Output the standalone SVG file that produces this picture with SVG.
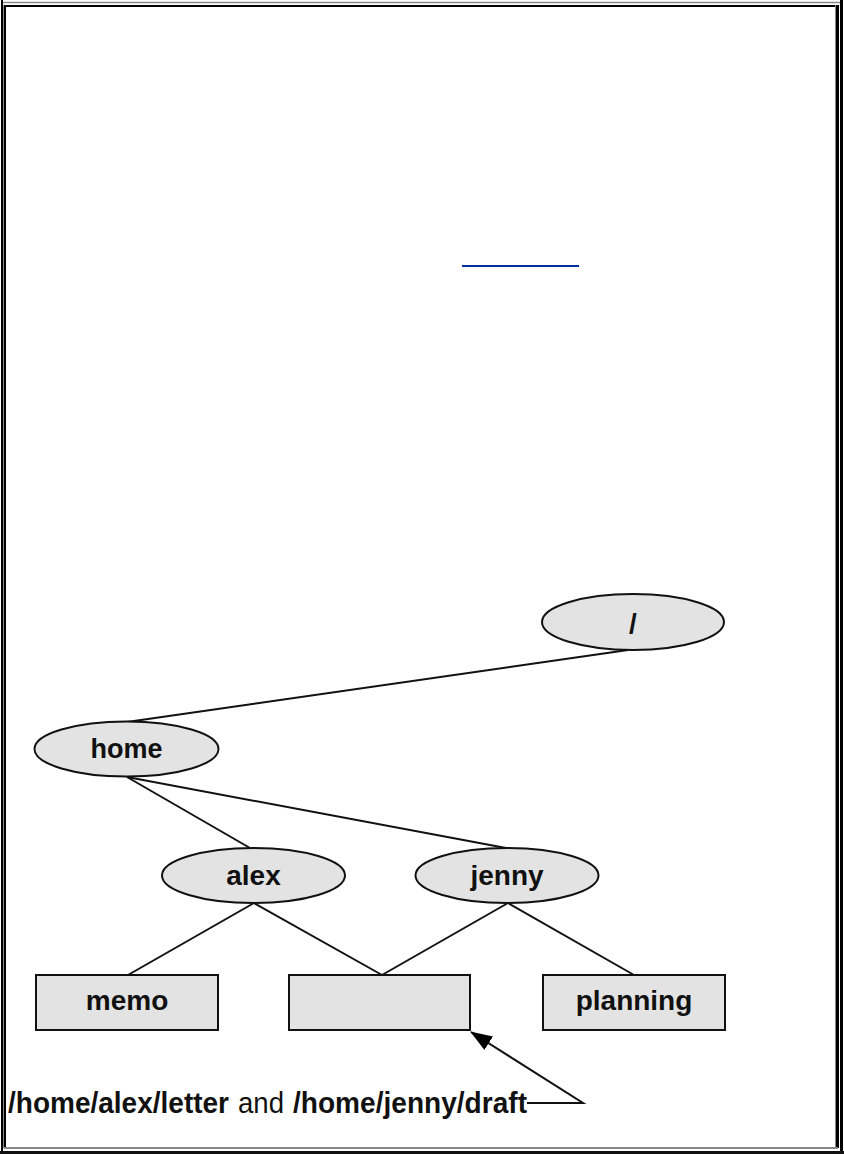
<svg xmlns="http://www.w3.org/2000/svg" width="844" height="1154" viewBox="0 0 844 1154">
<style>
.n{fill:#e3e3e3;stroke:#111;stroke-width:2}
.t{font-family:"Liberation Sans",Arial,sans-serif;font-weight:bold;font-size:28px;fill:#111;text-anchor:middle}
.c{stroke:#111;stroke-width:2;fill:none}
.cap{font-family:"Liberation Sans",Arial,sans-serif;font-size:29px;fill:#111}
</style>
<defs>
<marker id="ah" markerWidth="22" markerHeight="16" refX="21" refY="8" orient="auto" markerUnits="userSpaceOnUse" viewBox="0 0 22 16">
<path d="M0,0 L22,8 L0,16 Z" fill="#000"/>
</marker>
</defs>
<rect x="0" y="0" width="844" height="1154" fill="#fff"/>
<g id="frame">
<line x1="2" y1="0" x2="2" y2="1154" stroke="#000" stroke-width="2"/>
<line x1="3" y1="2.5" x2="840" y2="2.5" stroke="#888" stroke-width="1.5"/>
<line x1="841.5" y1="0" x2="841.5" y2="1154" stroke="#000" stroke-width="3"/>
<line x1="0" y1="1152.5" x2="844" y2="1152.5" stroke="#111" stroke-width="3"/>
<line x1="3.5" y1="5" x2="3.5" y2="1148" stroke="#888" stroke-width="1"/>
<line x1="5" y1="5" x2="5" y2="1148" stroke="#000" stroke-width="2"/>
<line x1="5" y1="6" x2="838" y2="6" stroke="#000" stroke-width="2"/>
<line x1="835.5" y1="5" x2="835.5" y2="1148" stroke="#888" stroke-width="1"/>
<line x1="837.5" y1="5" x2="837.5" y2="1148" stroke="#000" stroke-width="3"/>
<line x1="4" y1="1148" x2="838" y2="1148" stroke="#888" stroke-width="2"/>
</g>
<line id="link" x1="462" y1="266" x2="579" y2="266" stroke="#0033a0" stroke-width="2"/>
<g id="connectors">
<line class="c" x1="628" y1="650" x2="127" y2="722"/>
<line class="c" x1="127" y1="777" x2="250" y2="848"/>
<line class="c" x1="127" y1="777" x2="506" y2="848"/>
<line class="c" x1="254" y1="903" x2="128" y2="975"/>
<line class="c" x1="254" y1="903" x2="382" y2="975"/>
<line class="c" x1="508" y1="903" x2="382" y2="975"/>
<line class="c" x1="508" y1="903" x2="634" y2="975"/>
<polyline class="c" points="527,1103 583,1103 471,1032" marker-end="url(#ah)"/>
</g>
<g id="root"><ellipse class="n" cx="633" cy="622" rx="91" ry="28"/><text class="t" x="633" y="633">/</text></g>
<g id="home"><ellipse class="n" cx="126.5" cy="749" rx="92" ry="27.5"/><text class="t" x="126.5" y="758" textLength="72" lengthAdjust="spacingAndGlyphs">home</text></g>
<g id="alex"><ellipse class="n" cx="253.5" cy="875.5" rx="91.5" ry="27.5"/><text class="t" x="253.5" y="885">alex</text></g>
<g id="jenny"><ellipse class="n" cx="507" cy="875.5" rx="91.5" ry="27.5"/><text class="t" x="507" y="885">jenny</text></g>
<g id="memo"><rect class="n" x="36" y="975" width="182" height="55"/><text class="t" x="127" y="1010">memo</text></g>
<g id="file"><rect class="n" x="289" y="975" width="181" height="55"/></g>
<g id="planning"><rect class="n" x="543" y="975" width="182" height="55"/><text class="t" x="634" y="1010">planning</text></g>
<g id="caption">
<text class="cap" x="8" y="1113" font-weight="bold" textLength="221" lengthAdjust="spacingAndGlyphs">/home/alex/letter</text>
<text class="cap" x="238" y="1113" textLength="46" lengthAdjust="spacingAndGlyphs">and</text>
<text class="cap" x="293" y="1113" font-weight="bold" textLength="234" lengthAdjust="spacingAndGlyphs">/home/jenny/draft</text>
</g>
</svg>
